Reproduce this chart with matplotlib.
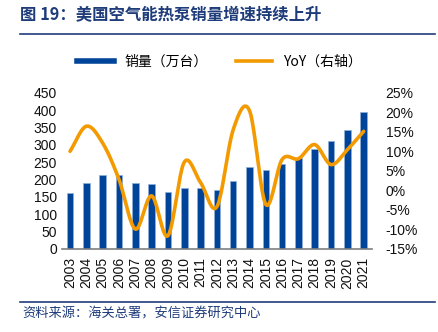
import matplotlib
matplotlib.use("Agg")
import matplotlib.pyplot as plt
import numpy as np
from matplotlib.lines import Line2D

plt.rcParams['font.family'] = ['Liberation Sans', 'Noto Sans CJK SC', 'DejaVu Sans']

years = ['2003', '2004', '2005', '2006', '2007', '2008', '2009', '2010', '2011', '2012',
         '2013', '2014', '2015', '2016', '2017', '2018', '2019', '2020', '2021']
sales = [162, 189, 213, 213, 189, 186, 165, 175, 175, 170,
         197, 235, 228, 244, 261, 289, 310, 342, 394]
yoy = [10.0, 16.4, 12.1, 2.8, -9.9, -1.4, -11.6, 7.2, 2.0, -4.2,
       15.5, 20.4, -3.6, 7.9, 8.1, 11.7, 6.6, 10.4, 15.1]
left_ticks = [0, 50, 100, 150, 200, 250, 300, 350, 400, 450]
right_ticks = [-15, -10, -5, 0, 5, 10, 15, 20, 25]

BLUE = '#00449A'
ORANGE = '#F39A00'
TITLE_BLUE = '#1F3C7A'


def smooth(x, y, n=20):
    x = np.asarray(x, float)
    y = np.asarray(y, float)
    px = np.concatenate([[2 * x[0] - x[1]], x, [2 * x[-1] - x[-2]]])
    py = np.concatenate([[2 * y[0] - y[1]], y, [2 * y[-1] - y[-2]]])
    xs, ys = [], []
    for i in range(1, len(px) - 2):
        t = np.linspace(0, 1, n, endpoint=(i == len(px) - 3))
        p0, p1, p2, p3 = py[i - 1], py[i], py[i + 1], py[i + 2]
        q0, q1, q2, q3 = px[i - 1], px[i], px[i + 1], px[i + 2]
        f = lambda a0, a1, a2, a3: 0.5 * ((2 * a1) + (-a0 + a2) * t +
                                          (2 * a0 - 5 * a1 + 4 * a2 - a3) * t ** 2 +
                                          (-a0 + 3 * a1 - 3 * a2 + a3) * t ** 3)
        xs.append(f(q0, q1, q2, q3))
        ys.append(f(p0, p1, p2, p3))
    return np.concatenate(xs), np.concatenate(ys)


fig = plt.figure(figsize=(4.39, 3.32), dpi=100)
ax = fig.add_axes([0.141, 0.25, 0.706, 0.471])
x = np.arange(len(years))
ax.bar(x, sales, width=0.4, color=BLUE, edgecolor='#8FB0DA', linewidth=0.5, zorder=2)
ax.set_xlim(-0.5, len(years) - 0.5)
ax.set_ylim(0, 450)
ax.set_yticks(left_ticks)
ax.set_xticks(x)
ax.set_xticklabels(years, rotation=90, fontsize=10)
ax.tick_params(axis='both', length=0, labelsize=10, colors='#111111')
ax.tick_params(axis='x', pad=6)
for s in ['top', 'right', 'left']:
    ax.spines[s].set_visible(False)
ax.spines['bottom'].set_color('#7F7F7F')
ax.spines['bottom'].set_linewidth(1.2)

ax2 = ax.twinx()
sx, sy = smooth(x, yoy)
ax2.plot(sx, sy, color=ORANGE, linewidth=2.6, solid_capstyle='round', zorder=3)
ax2.set_ylim(-15, 25)
ax2.set_yticks(right_ticks)
ax2.set_yticklabels([f'{v}%' for v in right_ticks])
ax2.tick_params(axis='y', length=0, labelsize=10, colors='#111111', pad=10)
for s in ['top', 'right', 'left', 'bottom']:
    ax2.spines[s].set_visible(False)

handles = [Line2D([0], [0], color=BLUE, lw=4), Line2D([0], [0], color=ORANGE, lw=2.6)]
fig.legend(handles, ['销量（万台）', 'YoY（右轴）'], loc='center', bbox_to_anchor=(0.5, 0.813),
           ncol=2, frameon=False, handlelength=2.6, columnspacing=2.0,
           prop={'family': ['Noto Sans CJK SC', 'DejaVu Sans'], 'size': 10})

fig.text(0.045, 0.955, '图 19：美国空气能热泵销量增速持续上升', fontsize=11.8, fontweight='bold',
         color=TITLE_BLUE, va='center', ha='left', family=['Noto Sans CJK SC', 'DejaVu Sans'])
fig.add_artist(Line2D([0.045, 0.99], [0.897, 0.897], color=TITLE_BLUE, lw=1.2))
fig.add_artist(Line2D([0.045, 0.99], [0.09, 0.09], color=TITLE_BLUE, lw=1.2))
fig.text(0.05, 0.055, '资料来源：海关总署，安信证券研究中心', fontsize=9.5, style='italic',
         color=TITLE_BLUE, va='center', ha='left', family=['Noto Sans CJK SC', 'DejaVu Sans'])

fig.savefig('out.png', dpi=100)
